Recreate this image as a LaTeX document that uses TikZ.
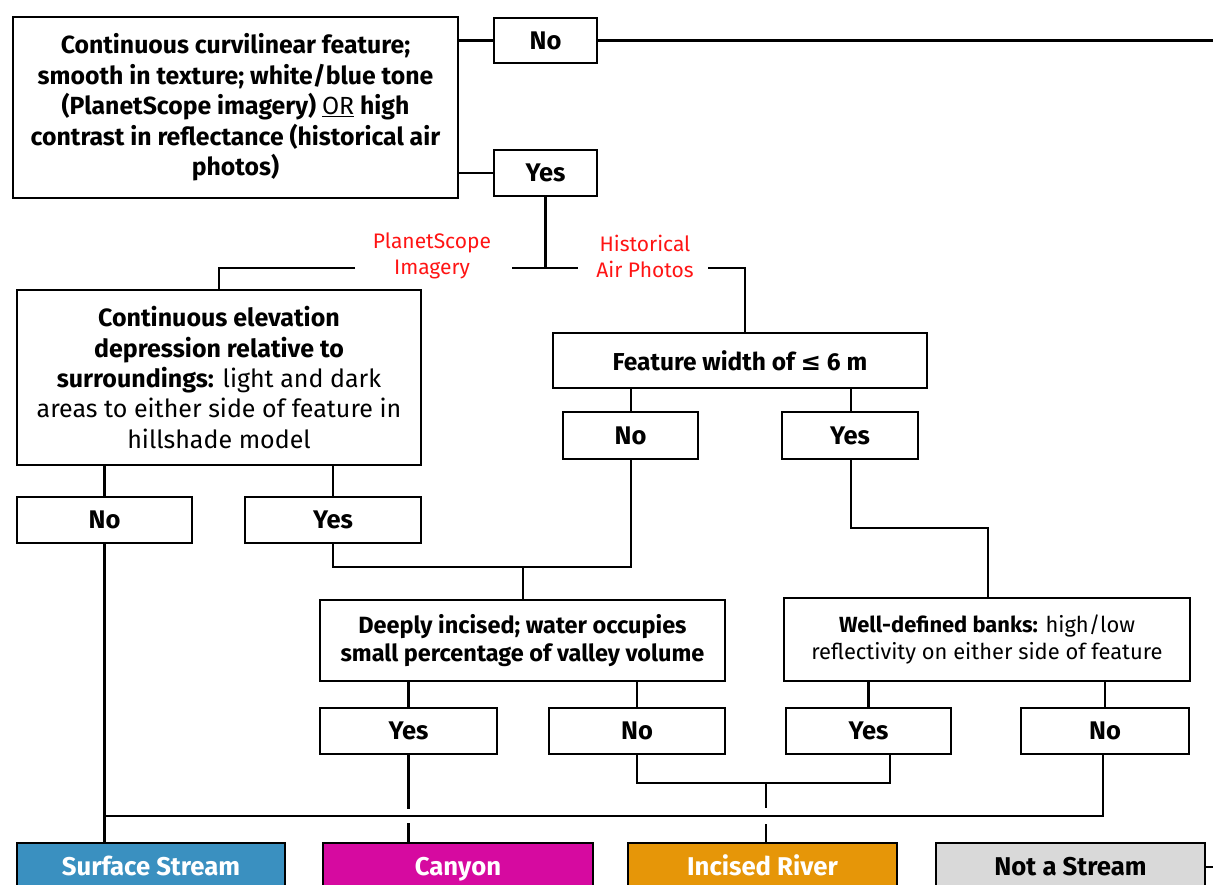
\documentclass[tikz,border=0pt]{standalone}
\usepackage{fontspec}
\setmainfont{Fira Sans}
\newfontfamily\symf{DejaVu Sans}
\definecolor{ssblue}{RGB}{58,144,192}
\definecolor{canmag}{RGB}{214,10,160}
\definecolor{incor}{RGB}{230,150,8}
\definecolor{notgray}{RGB}{217,217,217}
\definecolor{lblred}{RGB}{255,20,20}
\tikzset{
  box/.style={draw=black, line width=2.2pt, fill=white, align=center, inner sep=2pt,
    font=\fontsize{24.8}{30.5}\selectfont\bfseries},
  yn/.style={box, text height=17.6pt, text depth=0pt, font=\fontsize{25.5}{28}\selectfont\bfseries},
  result/.style={draw=black, line width=2.2pt, align=center, inner sep=2pt,
    text height=17.6pt, text depth=0pt,
    minimum height=48pt, font=\fontsize{25.7}{28}\selectfont\bfseries},
  lbl/.style={text=lblred, align=center, font=\fontsize{21}{26}\selectfont},
  conn/.style={line width=2.2pt, line join=miter},
}
\begin{document}
\begin{tikzpicture}[x=1pt,y=-1pt]
\useasboundingbox (0,0) rectangle (1213,885);
\clip (0,0) rectangle (1213,885);
% decision boxes
\node[box, minimum width=445pt, minimum height=181pt] (main) at (235.5,107.5)
  {Continuous curvilinear feature;\\ smooth in texture; white/blue tone\\ (PlanetScope imagery) {\mdseries\underline{OR}} high\\ contrast in reflectance (historical air\\ photos)};
\node[yn, minimum width=103pt, minimum height=45pt] (noTop) at (545.5,40.5) {No};
\node[yn, minimum width=103pt, minimum height=46pt] (yesTop) at (545.5,173) {Yes};
\node[box, minimum width=404pt, minimum height=175pt, font=\fontsize{25}{30.3}\selectfont] (left) at (219,377.5)
  {\textbf{Continuous elevation}\\ \textbf{depression relative to}\\ \textbf{surroundings:} light and dark\\ areas to either side of feature in\\ hillshade model};
\node[box, minimum width=374pt, minimum height=55pt, font=\fontsize{24.5}{28}\selectfont\bfseries] (fw) at (740,360.5) {Feature width of {\symf ≤} 6 m};
\node[yn, minimum width=135pt, minimum height=47pt] (noFW) at (630.5,435.5) {No};
\node[yn, minimum width=136pt, minimum height=47pt] (yesFW) at (850,435.5) {Yes};
\node[yn, minimum width=175pt, minimum height=46pt] (noL) at (104.5,520) {No};
\node[yn, minimum width=176pt, minimum height=46pt] (yesL) at (333,520) {Yes};
\node[box, minimum width=405pt, minimum height=81pt, font=\fontsize{23.5}{28}\selectfont\bfseries] (deep) at (522.5,640.5)
  {Deeply incised; water occupies\\ small percentage of valley volume};
\node[box, minimum width=406pt, minimum height=83pt, font=\fontsize{21.9}{27.5}\selectfont] (wd) at (987,639.5)
  {\textbf{Well-defined banks:} high/low\\ reflectivity on either side of feature};
\node[yn, minimum width=177pt, minimum height=46pt] (yesD) at (408.5,731) {Yes};
\node[yn, minimum width=176pt, minimum height=46pt] (noD) at (637,731) {No};
\node[yn, minimum width=165pt, minimum height=46pt] (yesW) at (868.5,731) {Yes};
\node[yn, minimum width=168pt, minimum height=46pt] (noW) at (1105,731) {No};
% results
\node[result, fill=ssblue, text=white, minimum width=268pt] (ss) at (151,867) {Surface Stream};
\node[result, fill=canmag, text=white, minimum width=270pt] (can) at (458,867) {Canyon};
\node[result, fill=incor, text=white, minimum width=269pt] (inc) at (762.5,867) {Incised River};
\node[result, fill=notgray, text=black, minimum width=269pt] (nots) at (1070.5,867) {Not a Stream};
% labels
\node[lbl] (lplanet) at (432,256) {PlanetScope\\Imagery};
\node[lbl] (lhist) at (645,256) {Historical\\Air Photos};
% coordinates
\coordinate (edgeTop) at (1215,40.5);
\coordinate (edgeNS) at (1215,867);
\coordinate (split) at (545.5,268);
\coordinate (sL) at (512,268);
\coordinate (sR) at (578,268);
\coordinate (pL) at (355,268);
\coordinate (pLc) at (219,268);
\coordinate (pR) at (708,268);
\coordinate (pRc) at (745,268);
\coordinate (m1a) at (333,567);
\coordinate (m1b) at (631,567);
\coordinate (m1c) at (523,567);
\coordinate (m2a) at (851,528);
\coordinate (m2b) at (988,528);
\coordinate (m3a) at (637,783);
\coordinate (m3b) at (890,783);
\coordinate (m3c) at (766,783);
\coordinate (bigL) at (104.5,816);
\coordinate (bigR) at (1103,816);
% connectors
\draw[conn] (main.east |- noTop) -- (noTop.west);
\draw[conn] (noTop.east) -- (edgeTop);
\draw[conn] (main.east |- yesTop) -- (yesTop.west);
\draw[conn] (yesTop.south) -- (split);
\draw[conn] (sL) -- (sR);
\draw[conn] (pL) -- (pLc) -- (left.north);
\draw[conn] (pR) -- (pRc) -- (pRc |- fw.north);
\draw[conn] (noL.north |- left.south) -- (noL.north);
\draw[conn] (yesL.north |- left.south) -- (yesL.north);
\draw[conn] (fw.south -| m1b) -- (m1b |- noFW.north);
\draw[conn] (fw.south -| m2a) -- (m2a |- yesFW.north);
\draw[conn] (yesL.south) -- (m1a) -- (m1b) -- (m1b |- noFW.south);
\draw[conn] (m1c) -- (m1c |- deep.north);
\draw[conn] (m2a |- yesFW.south) -- (m2a) -- (m2b) -- (m2b |- wd.north);
\draw[conn] (deep.south -| yesD) -- (yesD.north);
\draw[conn] (deep.south -| noD) -- (noD.north);
\draw[conn] (wd.south -| yesW) -- (yesW.north);
\draw[conn] (wd.south -| noW) -- (noW.north);
\draw[conn] (noD.south) -- (m3a) -- (m3b) -- (m3b |- yesW.south);
\draw[conn] (m3c) -- ++(0,25);
\draw[conn] (m3c |- 0,824) -- (m3c |- inc.north);
\draw[conn] (yesD.south) -- (408.5,809);
\draw[conn] (408.5,823) -- (408.5,0 |- can.north);
\draw[conn] (noL.south) -- (noL.south |- ss.north);
\draw[conn] (bigL) -- (bigR) -- (bigR |- noW.south);
\draw[conn] (nots.east) -- (edgeNS);
\end{tikzpicture}
\end{document}
